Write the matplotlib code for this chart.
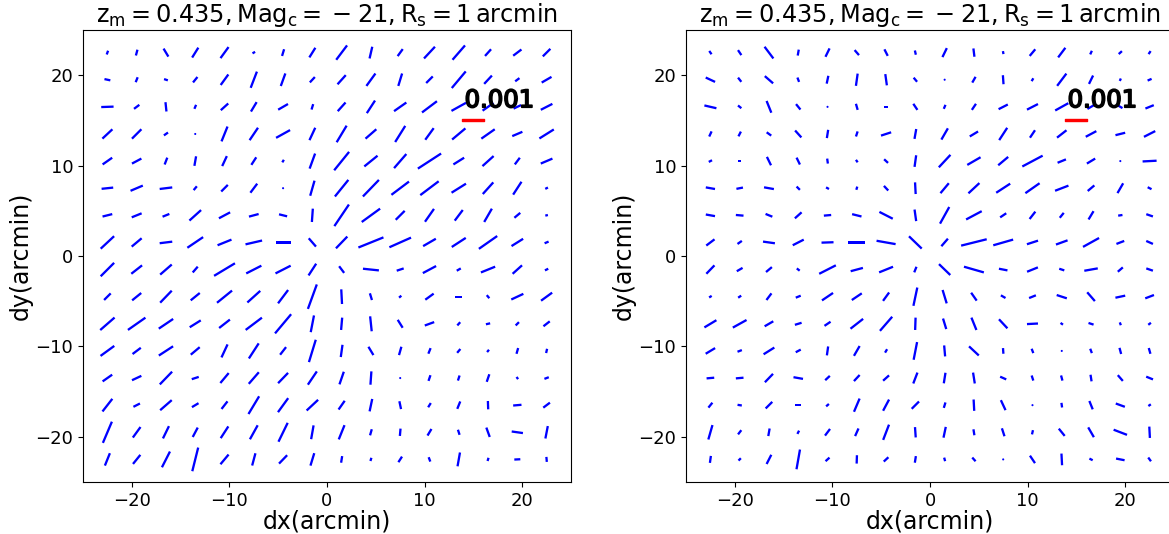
import matplotlib
matplotlib.use("Agg")
import matplotlib.pyplot as plt
import matplotlib.patheffects as pe
import numpy as np

# grid of the stick centres (arcmin), rows listed from top (dy=22.5) to bottom
grid_x = [-22.5, -19.5, -16.5, -13.5, -10.5, -7.5, -4.5, -1.5,
          1.5, 4.5, 7.5, 10.5, 13.5, 16.5, 19.5, 22.5]
grid_y = [22.5, 19.5, 16.5, 13.5, 10.5, 7.5, 4.5, 1.5,
          -1.5, -4.5, -7.5, -10.5, -13.5, -16.5, -19.5, -22.5]

# shear amplitude is given in units of 0.001/65
amp_unit = 1e-3 / 65

# left panel: stick angle (deg, from +x) and amplitude
angle_left = [
    [70, 75, 121, 58, 54, 30, 73, 58, 53, 77, 54, 47, 49, 48, 37, 45],
    [168, 68, 162, 51, 54, 69, 70, 47, 48, 54, 73, 45, 50, 47, 37, 30],
    [2, 37, 96, 67, 42, 59, 30, 73, 48, 57, 35, 37, 29, 35, 25, 27],
    [43, 45, 35, 60, 68, 56, 29, 65, 59, 41, 58, 54, 40, 35, 23, 32],
    [35, 28, 69, 80, 65, 57, 58, 70, 51, 39, 49, 33, 32, 42, 53, 23],
    [6, 23, 7, 50, 45, 53, 45, 74, 51, 46, 37, 37, 32, 48, 57, 27],
    [14, 22, 22, 42, 28, 15, 166, 86, 56, 36, 45, 55, 53, 60, 40, 14],
    [43, 40, 7, 34, 22, 13, 0, 131, 46, 22, 24, 30, 33, 35, 32, 23],
    [45, 38, 41, 49, 31, 27, 27, 57, 127, 174, 18, 28, 30, 22, 42, 27],
    [45, 39, 46, 39, 39, 42, 53, 70, 93, 107, 40, 36, 0, 130, 25, 36],
    [41, 35, 34, 32, 38, 37, 50, 79, 85, 96, 122, 20, 48, 13, 45, 38],
    [36, 37, 33, 40, 65, 57, 52, 73, 82, 121, 74, 68, 50, 50, 74, 77],
    [35, 25, 46, 18, 50, 49, 46, 56, 71, 86, 45, 71, 72, 71, 125, 21],
    [52, 27, 41, 31, 52, 59, 54, 43, 55, 78, 102, 58, 68, 92, 5, 37],
    [67, 54, 64, 62, 57, 61, 64, 80, 68, 74, 85, 59, 108, 110, 172, 79],
    [68, 51, 63, 76, 50, 75, 46, 73, 81, 73, 57, 111, 80, 73, 3, 95],
]
amp_left = [
    [12, 18, 28, 35, 41, 9, 21, 34, 54, 36, 26, 48, 57, 27, 31, 32],
    [18, 16, 12, 21, 39, 52, 40, 22, 37, 46, 39, 28, 65, 34, 16, 34],
    [37, 20, 28, 13, 30, 33, 34, 17, 35, 45, 45, 56, 50, 40, 25, 39],
    [41, 40, 15, 4, 48, 45, 48, 41, 58, 43, 57, 43, 52, 49, 33, 51],
    [35, 32, 22, 29, 33, 27, 9, 48, 71, 51, 56, 83, 38, 45, 25, 38],
    [35, 40, 38, 15, 28, 34, 6, 47, 64, 69, 66, 69, 51, 47, 46, 9],
    [30, 32, 22, 47, 38, 30, 25, 40, 78, 68, 38, 47, 40, 46, 23, 8],
    [55, 39, 38, 57, 45, 51, 45, 33, 49, 81, 71, 44, 50, 67, 41, 13],
    [57, 41, 46, 23, 73, 51, 51, 42, 25, 48, 22, 45, 14, 46, 38, 11],
    [28, 35, 50, 35, 58, 52, 50, 78, 44, 21, 9, 31, 20, 12, 40, 41],
    [57, 64, 52, 39, 41, 61, 75, 51, 37, 45, 28, 30, 13, 13, 14, 24],
    [51, 31, 51, 35, 43, 54, 29, 70, 37, 29, 26, 18, 15, 9, 18, 13],
    [35, 31, 53, 22, 39, 46, 43, 48, 40, 40, 4, 18, 16, 24, 8, 14],
    [48, 22, 46, 23, 29, 62, 52, 47, 32, 38, 24, 15, 24, 25, 25, 25],
    [69, 39, 41, 32, 42, 48, 63, 42, 46, 19, 22, 23, 16, 30, 34, 38],
    [40, 35, 53, 73, 38, 38, 35, 39, 20, 10, 20, 14, 42, 10, 18, 15],
]

# right panel
angle_right = [
    [125, 124, 127, 80, 64, 131, 117, 103, 64, 97, 100, 50, 53, 65, 42, 56],
    [155, 128, 139, 111, 78, 82, 98, 130, 60, 60, 94, 60, 53, 64, 67, 23],
    [167, 141, 112, 129, 90, 106, 0, 124, 67, 56, 27, 27, 29, 30, 150, 22],
    [65, 63, 144, 132, 81, 72, 18, 80, 60, 31, 57, 56, 38, 28, 14, 27],
    [27, 0, 116, 116, 98, 125, 137, 82, 47, 30, 40, 28, 22, 31, 45, 3],
    [170, 11, 170, 135, 151, 73, 133, 93, 50, 43, 33, 35, 21, 40, 60, 153],
    [170, 175, 158, 42, 5, 166, 153, 98, 61, 28, 34, 52, 51, 59, 9, 161],
    [37, 35, 172, 27, 2, 0, 170, 136, 49, 14, 16, 18, 20, 29, 21, 156],
    [46, 30, 40, 142, 27, 15, 22, 68, 136, 164, 169, 22, 162, 10, 41, 161],
    [32, 34, 53, 22, 34, 34, 54, 78, 107, 125, 150, 22, 162, 131, 12, 21],
    [31, 29, 30, 17, 34, 38, 49, 88, 107, 112, 133, 3, 145, 162, 110, 37],
    [31, 21, 32, 28, 82, 60, 59, 79, 95, 137, 94, 111, 135, 111, 105, 106],
    [5, 5, 46, 170, 43, 47, 42, 69, 81, 99, 156, 108, 105, 99, 131, 158],
    [51, 171, 45, 0, 41, 67, 62, 45, 73, 93, 115, 45, 98, 112, 160, 35],
    [74, 52, 80, 63, 53, 66, 69, 94, 78, 99, 108, 77, 129, 120, 159, 93],
    [82, 45, 63, 80, 42, 88, 43, 81, 105, 132, 110, 124, 93, 153, 169, 126],
]
amp_right = [
    [12, 18, 44, 18, 28, 20, 22, 13, 30, 25, 9, 26, 36, 12, 13, 11],
    [31, 16, 33, 14, 24, 37, 34, 16, 6, 20, 27, 10, 46, 28, 8, 13],
    [37, 13, 38, 21, 4, 19, 10, 22, 13, 22, 31, 37, 45, 25, 15, 27],
    [17, 16, 17, 28, 25, 16, 32, 30, 39, 29, 44, 27, 36, 36, 30, 38],
    [11, 10, 28, 23, 15, 9, 16, 35, 51, 46, 39, 69, 27, 29, 5, 42],
    [28, 20, 30, 14, 10, 10, 19, 35, 39, 45, 50, 52, 43, 26, 34, 13],
    [28, 23, 22, 27, 22, 29, 45, 35, 57, 53, 22, 28, 19, 29, 13, 21],
    [31, 16, 36, 37, 36, 50, 58, 53, 30, 79, 62, 35, 37, 55, 25, 22],
    [35, 20, 23, 11, 56, 38, 45, 18, 47, 62, 26, 35, 16, 41, 20, 21],
    [9, 11, 25, 16, 40, 36, 31, 56, 42, 29, 16, 22, 32, 35, 30, 28],
    [42, 47, 30, 21, 22, 48, 56, 37, 33, 40, 37, 33, 9, 16, 9, 10],
    [33, 14, 38, 17, 27, 34, 12, 54, 33, 40, 17, 14, 6, 14, 19, 18],
    [23, 23, 35, 29, 19, 25, 24, 35, 32, 33, 20, 16, 16, 20, 23, 22],
    [19, 13, 28, 17, 11, 43, 38, 31, 17, 34, 33, 5, 14, 27, 29, 9],
    [45, 16, 23, 11, 25, 25, 49, 31, 33, 18, 25, 13, 28, 34, 43, 34],
    [21, 10, 31, 60, 16, 25, 19, 20, 11, 15, 6, 27, 35, 11, 26, 14],
]

key_value = 0.001
title = r"$\mathrm{z_m = 0.435, Mag_c =\:{-}\:21, R_s = 1\,arcmin}$"

fig = plt.figure(figsize=(11.69, 5.34), dpi=100)
ax_left = fig.add_axes([83 / 1169, 52 / 534, 488 / 1169, 452 / 534])
ax_right = fig.add_axes([686 / 1169, 52 / 534, 488 / 1169, 452 / 534])

X, Y = np.meshgrid(grid_x, grid_y)

for ax, ang, amp in [(ax_left, angle_left, amp_left),
                     (ax_right, angle_right, amp_right)]:
    theta = np.radians(np.array(ang, dtype=float))
    g = np.array(amp, dtype=float) * amp_unit
    U = g * np.cos(theta)
    V = g * np.sin(theta)

    q = ax.quiver(X, Y, U, V, color="blue", pivot="middle",
                  headwidth=0, headlength=0, headaxislength=0,
                  scale_units="x", scale=4.5e-4, width=0.0047)
    ax.quiverkey(q, 15, 15.05, key_value, "", coordinates="data",
                 color="red", labelpos="N", linewidth=1.0, edgecolor="red")
    ax.text(14.1, 15.9, f"{key_value:g}", fontsize=17.5, ha="left",
            va="bottom", color="black",
            path_effects=[pe.withStroke(linewidth=1.2, foreground="black")])

    ax.set_xlim(-25, 25)
    ax.set_ylim(-25, 25)
    ax.set_title(title, fontsize=17.3)
    ax.set_xlabel("dx(arcmin)", fontsize=17, labelpad=0)
    ax.set_ylabel("dy(arcmin)", fontsize=17, labelpad=2)
    ax.tick_params(axis="both", labelsize=13)

fig.savefig("out.png", dpi=100)
